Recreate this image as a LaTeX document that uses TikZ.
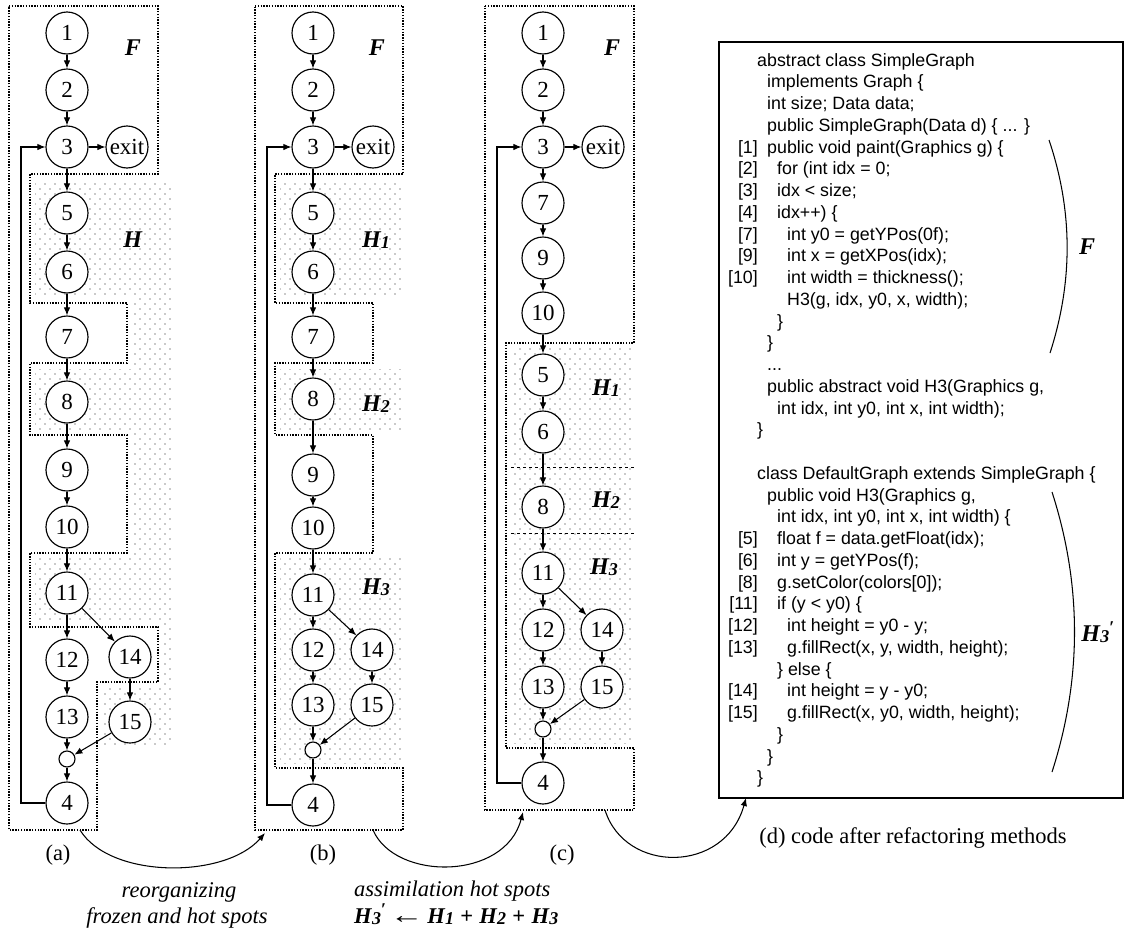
\documentclass[tikz,border=0pt]{standalone}
\usepackage{fontspec}
\setmainfont{Liberation Serif}
\newfontfamily\codefont{Liberation Sans}
\usetikzlibrary{arrows.meta,patterns}
\pgfdeclarepatternformonly{hotdots}{\pgfqpoint{-1pt}{-1pt}}{\pgfqpoint{9pt}{9pt}}{\pgfqpoint{10pt}{10pt}}{%
  \pgfpathcircle{\pgfqpoint{0pt}{0pt}}{0.65pt}%
  \pgfpathcircle{\pgfqpoint{5pt}{5pt}}{0.65pt}%
  \pgfusepath{fill}}
\newcommand\lab[1]{\textbf{\textit{#1}}}
\newcommand\Hx[1]{\textbf{\textit{H\kern0.3pt\raisebox{-1.2pt}{\fontsize{18}{18}\selectfont #1}}}}
\newcommand\Hp{\raisebox{8pt}{\textbf{\fontsize{18}{18}\selectfont ′}}}
\newcommand\cl[3]{\node[codetxt] (cl#1) at (#2,{66+21.75*#1}) {#3};}
\newcommand\cn[2]{\node[codenum] (cn#2) at (758,{66+21.75*#1}) {[#2]};}
\begin{document}
\begin{tikzpicture}[x=1pt,y=-1pt,
  vtx/.style={circle, draw, fill=white, line width=1.15pt, minimum size=42pt, inner sep=0pt, font=\fontsize{23}{23}\selectfont},
  jn/.style={circle, draw, fill=white, line width=1.15pt, minimum size=16pt, inner sep=0pt},
  flow/.style={line width=1.05pt, -{Latex[length=8pt,width=6.5pt]}},
  region/.style={line width=1.2pt, dash pattern=on 1.4pt off 1.4pt},
  hot/.style={region, pattern=hotdots, pattern color=black!90},
  lbl/.style={inner sep=0pt, font=\fontsize{24}{24}\selectfont},
  capt/.style={inner sep=0pt, font=\fontsize{22.5}{22.5}\selectfont},
  capit/.style={inner sep=0pt, font=\itshape\fontsize{22.5}{22.5}\selectfont},
  codetxt/.style={anchor=base west, inner sep=0pt, font=\codefont\fontsize{17.8}{20}\selectfont},
  codenum/.style={anchor=base east, inner sep=0pt, font=\codefont\fontsize{17.8}{20}\selectfont}]
\useasboundingbox (0,0) rectangle (1128,929);

% ---------------- panel (a) ----------------
\path[hot] (35,180) -- (173,180) -- (173,748) -- (102,748) -- (102,687) -- (163,687) -- (163,622) -- (35,622) -- (35,558) -- (132,558) -- (132,430) -- (35,430) -- (35,369) -- (132,369) -- (132,297) -- (35,297) -- cycle;
\draw[region] (9,6) -- (158,6) -- (158,174) -- (30,174) -- (30,303) -- (127,303) -- (127,363) -- (30,363) -- (30,435) -- (127,435) -- (127,553) -- (30,553) -- (30,627) -- (158,627) -- (158,682) -- (97,682) -- (97,830) -- (9,830) -- cycle;

\node[vtx] (a1) at (67,33) {1};
\node[vtx] (a2) at (67,90) {2};
\node[vtx] (a3) at (67,147) {3};
\node[vtx] (aexit) at (127,147) {exit};
\node[vtx] (a5) at (67,213) {5};
\node[vtx] (a6) at (67,272) {6};
\node[vtx] (a7) at (67,337) {7};
\node[vtx] (a8) at (67,402) {8};
\node[vtx] (a9) at (67,470) {9};
\node[vtx] (a10) at (67,527) {10};
\node[vtx] (a11) at (67,593) {11};
\node[vtx] (a12) at (67,660) {12};
\node[vtx] (a13) at (67,717) {13};
\node[vtx] (a14) at (130,657) {14};
\node[vtx] (a15) at (130,722) {15};
\node[jn] (aj) at (67,759) {};
\node[vtx] (a4) at (67,803) {4};
\coordinate (aback) at (21,147);
\foreach \s/\t in {1/2,2/3,3/exit,3/5,5/6,6/7,7/8,8/9,9/10,10/11,11/12,11/14,12/13,14/15,13/j,15/j,j/4}
  \draw[flow] (a\s) -- (a\t);
\draw[flow] (a4.west) -| (aback) -- (a3.west);
\node[lbl] (aF) at (133,48) {\lab{F}};
\node[lbl] (aH) at (133,240) {\lab{H}};
\node[capt] (acap) at (58,855) {(a)};

% ---------------- panel (b) ----------------
\path[hot] (280,180) rectangle (403,297);
\path[hot] (280,369) rectangle (403,430);
\path[hot] (280,558) rectangle (403,763);
\draw[region] (255,6) -- (403,6) -- (403,174) -- (275,174) -- (275,303) -- (373,303) -- (373,363) -- (275,363) -- (275,435) -- (373,435) -- (373,553) -- (275,553) -- (275,768) -- (403,768) -- (403,830) -- (255,830) -- cycle;

\node[vtx] (b1) at (313,33) {1};
\node[vtx] (b2) at (313,90) {2};
\node[vtx] (b3) at (313,147) {3};
\node[vtx] (bexit) at (373,147) {exit};
\node[vtx] (b5) at (313,213) {5};
\node[vtx] (b6) at (313,272) {6};
\node[vtx] (b7) at (313,337) {7};
\node[vtx] (b8) at (313,399) {8};
\node[vtx] (b9) at (313,475) {9};
\node[vtx] (b10) at (313,528) {10};
\node[vtx] (b11) at (313,595) {11};
\node[vtx] (b12) at (313,650) {12};
\node[vtx] (b13) at (313,705) {13};
\node[vtx] (b14) at (372,650) {14};
\node[vtx] (b15) at (372,705) {15};
\node[jn] (bj) at (313,750) {};
\node[vtx] (b4) at (313,805) {4};
\coordinate (bback) at (267,147);
\foreach \s/\t in {1/2,2/3,3/exit,3/5,5/6,6/7,7/8,8/9,9/10,10/11,11/12,11/14,12/13,14/15,13/j,15/j,j/4}
  \draw[flow] (b\s) -- (b\t);
\draw[flow] (b4.west) -| (bback) -- (b3.west);
\node[lbl] (bF) at (377,48) {\lab{F}};
\node[lbl] (bH1) at (376,240) {\Hx{1}};
\node[lbl] (bH2) at (376,404) {\Hx{2}};
\node[lbl] (bH3) at (376,587) {\Hx{3}};
\node[capt] (bcap) at (323,855) {(b)};

% ---------------- panel (c) ----------------
\path[hot] (511,348) rectangle (634,743);
\draw[dashed, line width=0.9pt] (511,467) -- (634,467);
\draw[dashed, line width=0.9pt] (511,533) -- (634,533);
\draw[region] (485,6) -- (634,6) -- (634,343) -- (506,343) -- (506,748) -- (634,748) -- (634,810) -- (485,810) -- cycle;

\node[vtx] (c1) at (543,33) {1};
\node[vtx] (c2) at (543,90) {2};
\node[vtx] (c3) at (543,147) {3};
\node[vtx] (cexit) at (603,147) {exit};
\node[vtx] (c7) at (543,203) {7};
\node[vtx] (c9) at (543,258) {9};
\node[vtx] (c10) at (543,313) {10};
\node[vtx] (c5) at (543,375) {5};
\node[vtx] (c6) at (543,432) {6};
\node[vtx] (c8) at (543,507) {8};
\node[vtx] (c11) at (543,573) {11};
\node[vtx] (c12) at (543,630) {12};
\node[vtx] (c13) at (543,687) {13};
\node[vtx] (c14) at (602,630) {14};
\node[vtx] (c15) at (602,687) {15};
\node[jn] (cj) at (543,729) {};
\node[vtx] (c4) at (543,783) {4};
\coordinate (cback) at (497,147);
\foreach \s/\t in {1/2,2/3,3/exit,3/7,7/9,9/10,10/5,5/6,6/8,8/11,11/12,11/14,12/13,14/15,13/j,15/j,j/4}
  \draw[flow] (c\s) -- (c\t);
\draw[flow] (c4.west) -| (cback) -- (c3.west);
\node[lbl] (cF) at (612,48) {\lab{F}};
\node[lbl] (cH1) at (606,388) {\Hx{1}};
\node[lbl] (cH2) at (606,500) {\Hx{2}};
\node[lbl] (cH3) at (604,567) {\Hx{3}};
\node[capt] (ccap) at (562,855) {(c)};

% ---------------- panel (d) ----------------
\node[draw, line width=1.2pt, minimum width=404pt, minimum height=756pt, inner sep=0pt] (code) at (921,420) {};
\cl{0}{757}{abstract class SimpleGraph}
\cl{1}{767}{implements Graph \{}
\cl{2}{767}{int size; Data data;}
\cl{3}{767}{public SimpleGraph(Data d) \{ ... \}}
\cl{4}{767}{public void paint(Graphics g) \{}
\cl{5}{777}{for (int idx = 0;}
\cl{6}{777}{idx < size;}
\cl{7}{777}{idx++) \{}
\cl{8}{787}{int y0 = getYPos(0f);}
\cl{9}{787}{int x = getXPos(idx);}
\cl{10}{787}{int width = thickness();}
\cl{11}{787}{H3(g, idx, y0, x, width);}
\cl{12}{777}{\}}
\cl{13}{767}{\}}
\cl{14}{767}{...}
\cl{15}{767}{public abstract void H3(Graphics g,}
\cl{16}{777}{int idx, int y0, int x, int width);}
\cl{17}{757}{\}}
\cl{19}{757}{class DefaultGraph extends SimpleGraph \{}
\cl{20}{767}{public void H3(Graphics g,}
\cl{21}{777}{int idx, int y0, int x, int width) \{}
\cl{22}{777}{float f = data.getFloat(idx);}
\cl{23}{777}{int y = getYPos(f);}
\cl{24}{777}{g.setColor(colors[0]);}
\cl{25}{777}{if (y < y0) \{}
\cl{26}{787}{int height = y0 - y;}
\cl{27}{787}{g.fillRect(x, y, width, height);}
\cl{28}{777}{\} else \{}
\cl{29}{787}{int height = y - y0;}
\cl{30}{787}{g.fillRect(x, y0, width, height);}
\cl{31}{777}{\}}
\cl{32}{767}{\}}
\cl{33}{757}{\}}
\cn{4}{1}
\cn{5}{2}
\cn{6}{3}
\cn{7}{4}
\cn{8}{7}
\cn{9}{9}
\cn{10}{10}
\cn{22}{5}
\cn{23}{6}
\cn{24}{8}
\cn{25}{11}
\cn{26}{12}
\cn{27}{13}
\cn{29}{14}
\cn{30}{15}
% brackets
\coordinate (fbt) at (1049,140);
\coordinate (fbb) at (1050,353);
\draw[line width=1.05pt] (fbt) .. controls (1073,211) and (1073,282) .. (fbb);
\node[lbl] (dF) at (1087,247) {\lab{F}};
\coordinate (hbt) at (1052,492);
\coordinate (hbb) at (1052,772);
\draw[line width=1.05pt] (hbt) .. controls (1082,585) and (1082,679) .. (hbb);
\node[lbl] (dH) at (1098,632) {\Hx{3}\Hp};
\node[capt] (dcap) at (913,838) {(d) code after refactoring methods};

% ---------------- transitions ----------------
\coordinate (aout) at (80,830);
\coordinate (bin) at (265,833);
\coordinate (bout) at (373,830);
\coordinate (cin) at (523,812);
\coordinate (cout) at (605,810);
\coordinate (din) at (746,798);
\draw[flow] (aout) .. controls (110,879) and (225,879) .. (bin);
\draw[flow] (bout) .. controls (395,881) and (505,881) .. (cin);
\draw[flow] (cout) .. controls (625,874) and (725,874) .. (din);
\node[capit] (t1a) at (179,892) {reorganizing};
\node[capit] (t1b) at (177,918) {frozen and hot spots};
\node[capit, anchor=west] (t2a) at (354,891) {assimilation hot spots};
\node[capt, anchor=base west] (t2b) at (354,923) {\Hx{3}\Hp\,\scalebox{1.5}[1.1]{\textbf{←}}\,\Hx{1}\;\textbf{+}\;\Hx{2}\;\textbf{+}\;\Hx{3}};
\end{tikzpicture}
\end{document}
